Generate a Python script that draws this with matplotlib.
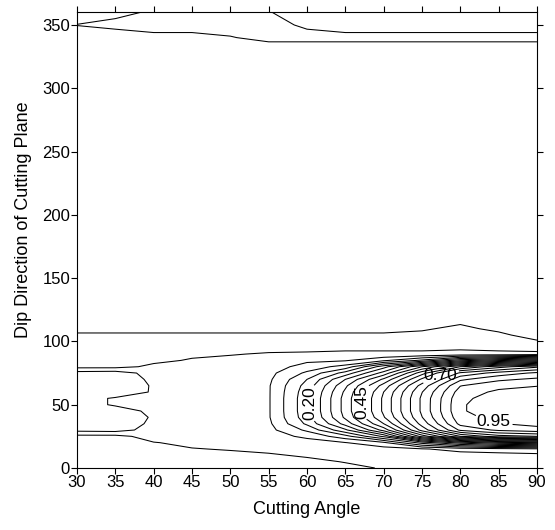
import numpy as np
import matplotlib
matplotlib.use("Agg")
import matplotlib.pyplot as plt

plt.rcParams['font.family'] = ['Liberation Sans', 'DejaVu Sans']

# cutting angle (columns) and dip direction of the cutting plane (rows)
cutting_angle = [30, 35, 40, 45, 50, 55, 60, 65, 70, 75, 80, 85, 90]
dip_direction = [0, 5, 10, 15, 20, 25, 30, 35, 40, 45, 50, 55, 60,
                 65, 70, 75, 80, 85, 90, 95, 100, 105, 110, 115, 120,
                 130, 330, 340, 350, 360]

# values, one row per dip direction
ratio = [
    [-0.03, -0.03, -0.03, -0.03, -0.03, -0.03, -0.025, -0.01, 0.003, 0.006, 0.01, 0.012, 0.015],
    [-0.03, -0.03, -0.03, -0.025, -0.02, -0.02, -0.01, 0.002, 0.008, 0.012, 0.015, 0.02, 0.025],
    [-0.03, -0.03, -0.025, -0.015, -0.01, -0.005, 0.005, 0.01, 0.015, 0.02, 0.025, 0.03, 0.035],
    [-0.025, -0.025, -0.015, -0.002, 0.003, 0.01, 0.015, 0.025, 0.03, 0.045, 0.07, 0.08, 0.09],
    [-0.02, -0.02, -0.002, 0.01, 0.01, 0.02, 0.03, 0.048, 0.09, 0.22, 0.32, 0.38, 0.40],
    [-0.015, -0.015, 0.02, 0.02, 0.02, 0.03, 0.06, 0.13, 0.26, 0.52, 0.70, 0.78, 0.80],
    [0.065, 0.07, 0.03, 0.025, 0.025, 0.035, 0.11, 0.24, 0.42, 0.67, 0.86, 0.91, 0.93],
    [0.07, 0.08, 0.04, 0.03, 0.03, 0.04, 0.16, 0.32, 0.50, 0.72, 0.915, 0.948, 0.965],
    [0.07, 0.08, 0.045, 0.03, 0.03, 0.045, 0.18, 0.36, 0.545, 0.748, 0.935, 0.965, 0.975],
    [0.07, 0.07, 0.04, 0.03, 0.03, 0.045, 0.185, 0.37, 0.56, 0.76, 0.945, 0.975, 0.98],
    [0.07, 0.045, 0.03, 0.03, 0.03, 0.045, 0.185, 0.37, 0.56, 0.76, 0.945, 0.975, 0.98],
    [0.07, 0.045, 0.03, 0.03, 0.03, 0.045, 0.185, 0.37, 0.56, 0.76, 0.94, 0.97, 0.98],
    [0.07, 0.08, 0.045, 0.03, 0.03, 0.045, 0.18, 0.36, 0.55, 0.748, 0.925, 0.96, 0.97],
    [0.07, 0.085, 0.045, 0.03, 0.03, 0.045, 0.17, 0.34, 0.52, 0.72, 0.898, 0.935, 0.948],
    [0.07, 0.08, 0.04, 0.025, 0.025, 0.04, 0.15, 0.30, 0.46, 0.66, 0.84, 0.89, 0.91],
    [0.07, 0.075, 0.03, 0.02, 0.02, 0.035, 0.11, 0.22, 0.37, 0.58, 0.76, 0.82, 0.86],
    [-0.015, -0.015, 0.01, 0.012, 0.015, 0.025, 0.07, 0.12, 0.28, 0.45, 0.60, 0.68, 0.74],
    [-0.02, -0.02, -0.01, 0.004, 0.008, 0.015, 0.04, 0.045, 0.09, 0.16, 0.28, 0.34, 0.38],
    [-0.025, -0.025, -0.02, -0.008, -0.002, 0.003, 0.005, 0.008, 0.008, 0.008, 0.01, 0.01, 0.02],
    [-0.03, -0.03, -0.03, -0.02, -0.015, -0.01, -0.01, -0.008, -0.008, -0.008, -0.005, -0.01, -0.03],
    [-0.035, -0.035, -0.035, -0.03, -0.03, -0.025, -0.025, -0.02, -0.02, -0.02, -0.015, -0.025, -0.045],
    [-0.045, -0.045, -0.045, -0.045, -0.045, -0.045, -0.045, -0.045, -0.045, -0.04, -0.025, -0.04, -0.07],
    [-0.06, -0.06, -0.06, -0.06, -0.06, -0.06, -0.06, -0.06, -0.06, -0.055, -0.04, -0.06, -0.07],
    [-0.07, -0.07, -0.07, -0.07, -0.07, -0.07, -0.07, -0.07, -0.07, -0.07, -0.055, -0.07, -0.07],
    [-0.07, -0.07, -0.07, -0.07, -0.07, -0.07, -0.07, -0.07, -0.07, -0.07, -0.07, -0.07, -0.07],
    [-0.07, -0.07, -0.07, -0.07, -0.07, -0.07, -0.07, -0.07, -0.07, -0.07, -0.07, -0.07, -0.07],
    [-0.07, -0.07, -0.07, -0.07, -0.07, -0.07, -0.07, -0.07, -0.07, -0.07, -0.07, -0.07, -0.07],
    [-0.07, -0.07, -0.06, -0.06, -0.052, -0.04, -0.04, -0.04, -0.04, -0.04, -0.04, -0.04, -0.04],
    [-0.049, -0.04, -0.035, -0.035, -0.035, -0.04, -0.055, -0.065, -0.065, -0.065, -0.065, -0.065, -0.065],
    [-0.07, -0.06, -0.045, -0.04, -0.04, -0.048, -0.07, -0.07, -0.07, -0.07, -0.07, -0.07, -0.07],
]

plain_levels = [-0.05, 0.0, 0.05, 0.10, 0.15, 0.25, 0.30, 0.35, 0.40,
                0.50, 0.55, 0.60, 0.65, 0.75, 0.80, 0.85, 0.90]
labelled_levels = [0.20, 0.45, 0.70, 0.95]
label_spots = [(60.6, 51), (66.8, 52), (77.5, 72), (84.2, 33)]

x_ticks = list(range(30, 91, 5))
y_ticks = list(range(0, 351, 50))

fig = plt.figure(figsize=(5.55, 5.30), dpi=100)
ax = fig.add_axes([0.1387, 0.117, 0.8288, 0.8598])

Z = np.array(ratio)
ax.contour(cutting_angle, dip_direction, Z, levels=plain_levels,
           colors='black', linewidths=0.75, negative_linestyles='solid')
cs = ax.contour(cutting_angle, dip_direction, Z, levels=labelled_levels,
                colors='black', linewidths=0.75)
texts = ax.clabel(cs, fmt='%.2f', fontsize=12.5, inline=True, inline_spacing=2,
                  manual=label_spots)
for t in texts:
    if t.get_text() in ("0.70", "0.95"):
        t.set_rotation(0)
    else:
        t.set_rotation(90)

ax.set_xlim(30, 90)
ax.set_ylim(0, 360)
ax.set_xticks(x_ticks)
ax.set_yticks(y_ticks)
ax.tick_params(top=True, right=True, direction='out', length=4, width=0.8,
               labelsize=12, pad=1)
for sp in ax.spines.values():
    sp.set_linewidth(0.8)

ax.set_xlabel("Cutting Angle", fontsize=13, labelpad=8)
ax.set_ylabel("Dip Direction of Cutting Plane", fontsize=13)
ax.yaxis.set_label_coords(-0.097, 0.545)

fig.savefig("out.png", dpi=100)
